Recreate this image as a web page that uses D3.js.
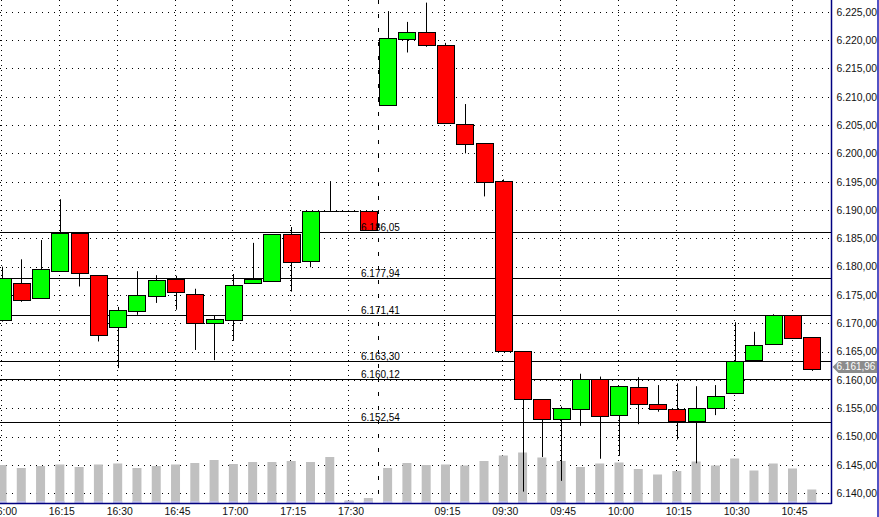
<!DOCTYPE html>
<html><head><meta charset="utf-8">
<script src="https://cdn.jsdelivr.net/npm/d3@7"></script>
<style>
body{margin:0;background:#fff;overflow:hidden}
svg{display:block}
text{font-family:"Liberation Sans",Arial,sans-serif;}
</style>
</head><body>
<svg id="chart" width="879" height="517"></svg>
<script>
// ---- data ----
const times = ["16:00","16:05","16:10","16:15","16:20","16:25","16:30","16:35","16:40","16:45",
  "16:50","16:55","17:00","17:05","17:10","17:15","17:20","17:25","17:30","17:35",
  "09:00","09:05","09:10","09:15","09:20","09:25","09:30","09:35","09:40","09:45",
  "09:50","09:55","10:00","10:05","10:10","10:15","10:20","10:25","10:30","10:35",
  "10:40","10:45","10:50"];
const open  = [6170.5,6177.2,6174.4,6179.2,6185.9,6178.5,6169.3,6172.1,6174.8,6177.8,
  6175.1,6170.1,6170.6,6177.2,6177.4,6185.7,6181.0,6189.8,6189.8,6189.8,
  6208.5,6220.1,6221.4,6219.1,6205.1,6201.8,6195.1,6165.1,6156.6,6153.1,
  6154.8,6160.1,6153.9,6158.7,6155.7,6154.8,6152.8,6155.0,6157.7,6163.6,
  6166.3,6171.4,6167.5];
const high  = [6180.0,6181.3,6184.7,6191.9,6186.0,6178.5,6172.9,6179.2,6178.5,6178.4,
  6176.1,6171.4,6178.7,6184.2,6185.7,6187.0,6189.8,6195.1,6189.8,6189.8,
  6225.1,6223.2,6226.6,6219.5,6208.7,6201.8,6195.4,6165.1,6156.6,6155.3,
  6161.1,6160.6,6158.9,6160.5,6159.1,6159.4,6158.9,6159.1,6170.2,6168.5,
  6171.6,6171.4,6167.5];
const low   = [6170.3,6173.8,6174.4,6179.2,6176.5,6166.8,6162.1,6171.5,6173.6,6172.4,
  6165.3,6163.5,6166.9,6177.2,6177.4,6175.6,6179.9,6189.8,6189.8,6186.4,
  6208.5,6217.8,6218.8,6205.3,6200.0,6192.4,6165.1,6140.3,6146.4,6142.2,
  6151.9,6146.1,6146.6,6152.2,6154.4,6149.5,6145.3,6153.8,6157.7,6163.6,
  6166.3,6167.4,6161.6];
const close = [6178.0,6174.2,6179.5,6186.0,6178.8,6167.9,6172.3,6175.0,6177.6,6175.5,
  6170.1,6170.7,6176.7,6177.8,6185.7,6180.8,6189.8,6189.8,6189.8,6186.4,
  6220.3,6221.4,6219.1,6205.3,6201.6,6195.0,6165.1,6156.6,6153.1,6155.0,
  6160.1,6153.7,6158.9,6155.8,6154.8,6152.8,6155.0,6157.1,6163.4,6166.1,
  6171.5,6167.4,6161.96];
const volume = [380,350,370,385,360,385,395,350,370,385,
  400,430,390,410,410,420,410,460,25,50,
  350,400,380,385,375,420,475,505,455,420,
  360,395,405,340,285,320,415,375,445,325,
  395,345,135];
const xTickLabels = ["16:00","16:15","16:30","16:45","17:00","17:15","17:30",
  "09:15","09:30","09:45","10:00","10:15","10:30","10:45"];
const yTicks = [6140,6145,6150,6155,6160,6165,6170,6175,6180,6185,6190,6195,
  6200,6205,6210,6215,6220,6225];
const levels = [6186.05,6177.94,6171.41,6163.30,6160.12,6152.54];
const lastPrice = 6161.96;
const sessionBreakAfter = "17:35";

// ---- layout ----
const W = 879, H = 517;
const plotRight = 831.5, plotBottom = 503;
const svg = d3.select("#chart");
const de = d3.formatLocale({decimal: ",", thousands: ".", grouping: [3], currency: ["", "€"]});
const fmt = de.format(",.2f");

const n = times.length;
const x = d3.scaleLinear().domain([0, n - 1]).range([2, 811.8]);
const y = d3.scaleLinear().domain([6140, 6225]).range([493.3, 11.7]);
const yv = d3.scaleLinear().domain([0, 1000]).range([plotBottom, plotBottom - 100]);

const data = times.map((t, i) => ({i, t, o: open[i], h: high[i], l: low[i], c: close[i], v: volume[i]}));

svg.append("rect").attr("width", W).attr("height", H).attr("fill", "#fff");

svg.append("defs").append("clipPath").attr("id", "plotclip")
  .append("rect").attr("x", 0).attr("y", 0).attr("width", plotRight).attr("height", plotBottom);

const plot = svg.append("g").attr("clip-path", "url(#plotclip)");

// grid
plot.append("g").selectAll("line").data(yTicks).join("line")
  .attr("x1", 0).attr("x2", plotRight)
  .attr("y1", d => Math.round(y(d)) + 0.5).attr("y2", d => Math.round(y(d)) + 0.5)
  .attr("stroke", "#000").attr("stroke-width", 1).attr("stroke-dasharray", "1,5");
const tickIdx = xTickLabels.map(l => times.indexOf(l));
plot.append("g").selectAll("line").data(tickIdx).join("line")
  .attr("x1", d => Math.round(x(d)) - 0.5).attr("x2", d => Math.round(x(d)) - 0.5)
  .attr("y1", 0).attr("y2", plotBottom)
  .attr("stroke", "#000").attr("stroke-width", 1).attr("stroke-dasharray", "1,4");

// volume bars
const vg = plot.append("g");
vg.selectAll("rect.v").data(data).join("rect").attr("class", "v")
  .attr("x", d => x(d.i) - 4.5).attr("width", 9)
  .attr("y", d => yv(d.v)).attr("height", d => plotBottom - yv(d.v))
  .attr("fill", "#c0c0c0");
vg.selectAll("rect.vb").data(data).join("rect").attr("class", "vb")
  .attr("x", d => x(d.i) - 4.5).attr("width", 9)
  .attr("y", plotBottom - 2).attr("height", 2)
  .attr("fill", "#c4c4e6");

// session break
const bi = times.indexOf(sessionBreakAfter);
const bx = Math.round((x(bi) + x(bi + 1)) / 2) + 0.5;
plot.append("line").attr("x1", bx).attr("x2", bx).attr("y1", 0).attr("y2", plotBottom)
  .attr("stroke", "#000").attr("stroke-dasharray", "4,10");

// level lines
plot.append("g").selectAll("line").data(levels).join("line")
  .attr("x1", 0).attr("x2", plotRight)
  .attr("y1", d => Math.round(y(d)) + 0.5).attr("y2", d => Math.round(y(d)) + 0.5)
  .attr("stroke", "#000").attr("stroke-width", 1);

// candles
const cg = plot.append("g");
cg.selectAll("line.w").data(data).join("line").attr("class", "w")
  .attr("x1", d => Math.round(x(d.i)) + 0.5).attr("x2", d => Math.round(x(d.i)) + 0.5)
  .attr("y1", d => y(d.h)).attr("y2", d => y(d.l))
  .attr("stroke", "#000").attr("stroke-width", 1);
const bodies = data.filter(d => d.o !== d.c);
const dojis = data.filter(d => d.o === d.c);
cg.selectAll("rect.b").data(bodies).join("rect").attr("class", "b")
  .attr("x", d => Math.round(x(d.i) - 8.5) + 0.5).attr("width", 17)
  .attr("y", d => Math.round(y(Math.max(d.o, d.c))) + 0.5)
  .attr("height", d => Math.max(1, Math.round(y(Math.min(d.o, d.c))) - Math.round(y(Math.max(d.o, d.c)))))
  .attr("fill", d => d.c > d.o ? "#00ff00" : "#ff0000")
  .attr("stroke", "#000").attr("stroke-width", 1);
cg.selectAll("line.d").data(dojis).join("line").attr("class", "d")
  .attr("x1", d => x(d.i) - 9.7).attr("x2", d => x(d.i) + 9.7)
  .attr("y1", d => Math.round(y(d.o)) + 0.5).attr("y2", d => Math.round(y(d.o)) + 0.5)
  .attr("stroke", "#000").attr("stroke-width", 1);

// level labels
plot.append("g").selectAll("text").data(levels).join("text")
  .attr("x", 361).attr("y", d => Math.round(y(d)) - 1.5)
  .attr("font-size", 10).attr("fill", "#000")
  .text(d => fmt(d));

// borders
svg.append("line").attr("x1", 0).attr("x2", plotRight).attr("y1", plotBottom + 0.5).attr("y2", plotBottom + 0.5)
  .attr("stroke", "#000080").attr("stroke-width", 1.5);
svg.append("line").attr("x1", plotRight).attr("x2", plotRight).attr("y1", 0).attr("y2", plotBottom + 1)
  .attr("stroke", "#000080").attr("stroke-width", 1.5);
svg.append("line").attr("x1", 878).attr("x2", 878).attr("y1", 0).attr("y2", H)
  .attr("stroke", "#1a1ab0").attr("stroke-width", 1.5);

// y axis
const yAxis = d3.axisRight(y).tickValues(yTicks).tickFormat(fmt).tickSize(0).tickPadding(5);
const ya = svg.append("g").attr("transform", `translate(${plotRight},0)`).call(yAxis);
ya.select(".domain").remove();
ya.selectAll("text").attr("font-size", 10.4).attr("fill", "#111")
  .attr("font-family", "'Liberation Sans',Arial,sans-serif");

// x axis
const xAxis = d3.axisBottom(x).tickValues(tickIdx).tickFormat(i => times[i]).tickSize(0).tickPadding(5);
const xa = svg.append("g").attr("transform", `translate(1.5,${plotBottom})`).call(xAxis);
xa.select(".domain").remove();
xa.selectAll("text").attr("font-size", 10.4).attr("fill", "#111")
  .attr("font-family", "'Liberation Sans',Arial,sans-serif");

// last price marker
const ly = y(lastPrice);
const mk = svg.append("g");
mk.append("path")
  .attr("d", `M${plotRight + 1},${ly - 2} L${plotRight + 7},${ly - 8} L877,${ly - 8} L877,${ly + 4} L${plotRight + 7},${ly + 4} Z`)
  .attr("fill", "#8c8c8c");
mk.append("text").attr("x", plotRight + 5).attr("y", ly + 1.5)
  .attr("font-size", 10).attr("fill", "#fff").text(fmt(lastPrice));
</script>
</body></html>
